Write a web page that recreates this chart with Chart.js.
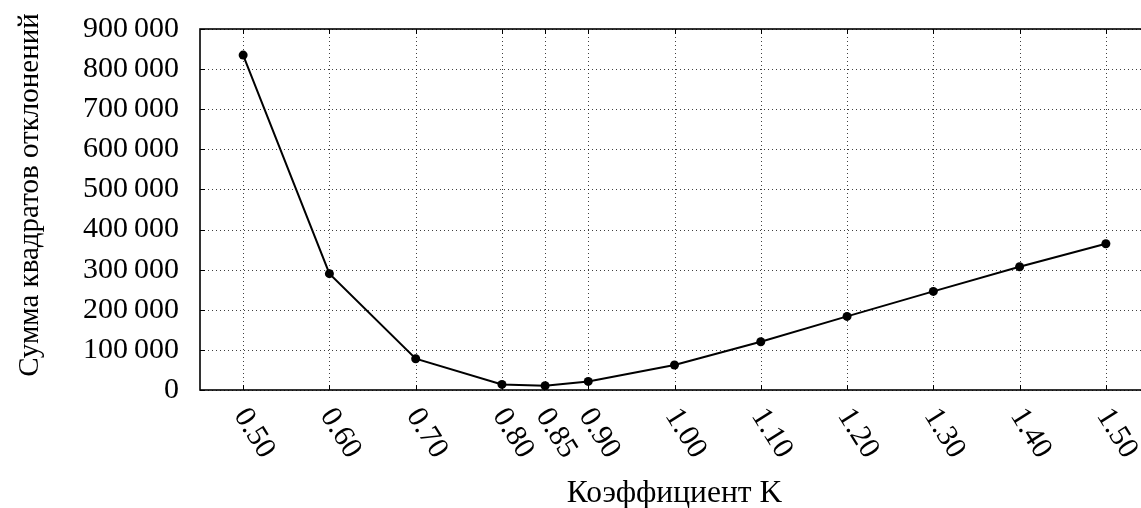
<!DOCTYPE html>
<html>
<head>
<meta charset="utf-8">
<script src="https://cdn.jsdelivr.net/npm/chart.js@4/dist/chart.umd.min.js"></script>
<style>
  html, body { margin: 0; padding: 0; background: #fff; overflow: hidden; }
  canvas { display: block; }
</style>
</head>
<body>
<canvas id="chart" width="1160" height="508"></canvas>
<script>
// values
const coefficients = [0.50, 0.60, 0.70, 0.80, 0.85, 0.90, 1.00, 1.10, 1.20, 1.30, 1.40, 1.50];
const sumSquares = [835000, 290000, 78000, 14000, 10700, 21400, 62300, 120400, 183500, 245800, 307400, 364700];
const xTickLabels = ['0.50', '0.60', '0.70', '0.80', '0.85', '0.90', '1.00', '1.10', '1.20', '1.30', '1.40', '1.50'];
const yTicks = [0, 100000, 200000, 300000, 400000, 500000, 600000, 700000, 800000, 900000];
const xTitle = 'Коэффициент K';
const yTitle = 'Сумма квадратов отклонений';

const FONT = '"Liberation Serif", "Times New Roman", serif';
const LABEL_ROT = 58 * Math.PI / 180;

function fmt(v) {
  return String(v).replace(/\B(?=(\d{3})+(?!\d))/g, '\u2009');
}

// grid, inner tick marks, frame, rotated x labels and axis titles
const pgfFrame = {
  id: 'pgfFrame',
  beforeDatasetsDraw(chart) {
    const { ctx, chartArea: a, scales: { x, y } } = chart;
    ctx.save();
    ctx.lineWidth = 1;
    ctx.strokeStyle = 'rgba(0,0,0,0.75)';
    ctx.setLineDash([1, 3]);
    ctx.beginPath();
    coefficients.forEach(v => {
      const px = Math.round(x.getPixelForValue(v)) + 0.5;
      ctx.moveTo(px, a.top);
      ctx.lineTo(px, a.bottom);
    });
    yTicks.forEach(v => {
      const py = Math.round(y.getPixelForValue(v)) + 0.5;
      ctx.moveTo(a.left, py);
      ctx.lineTo(a.right, py);
    });
    ctx.stroke();
    ctx.setLineDash([]);

    ctx.strokeStyle = '#000';
    ctx.lineWidth = 1;
    ctx.beginPath();
    coefficients.forEach(v => {
      const px = Math.round(x.getPixelForValue(v)) + 0.5;
      ctx.moveTo(px, a.bottom);
      ctx.lineTo(px, a.bottom - 5);
      ctx.moveTo(px, a.top);
      ctx.lineTo(px, a.top + 5);
    });
    yTicks.forEach(v => {
      const py = Math.round(y.getPixelForValue(v)) + 0.5;
      ctx.moveTo(a.left, py);
      ctx.lineTo(a.left + 5, py);
    });
    ctx.stroke();

    ctx.lineWidth = 1.6;
    ctx.strokeRect(a.left, a.top, a.right - a.left, a.bottom - a.top);
    ctx.restore();
  },
  afterDraw(chart) {
    const { ctx, chartArea: a, scales: { x } } = chart;
    ctx.save();
    ctx.fillStyle = '#000';
    ctx.font = '30px ' + FONT;
    ctx.textAlign = 'left';
    ctx.textBaseline = 'middle';
    coefficients.forEach((v, i) => {
      const px = x.getPixelForValue(v);
      ctx.save();
      ctx.translate(px - 3, a.bottom + 21);
      ctx.rotate(LABEL_ROT);
      ctx.fillText(xTickLabels[i], 0, 0);
      ctx.restore();
    });

    ctx.font = '31.5px ' + FONT;
    ctx.textAlign = 'center';
    ctx.textBaseline = 'alphabetic';
    ctx.fillText(xTitle, (a.left + a.right) / 2, 502);

    ctx.font = '29px ' + FONT;
    ctx.save();
    ctx.translate(38, 195);
    ctx.rotate(-Math.PI / 2);
    ctx.fillText(yTitle, 0, 0);
    ctx.restore();
    ctx.restore();
  }
};

new Chart(document.getElementById('chart'), {
  type: 'line',
  data: {
    datasets: [{
      data: coefficients.map((c, i) => ({ x: c, y: sumSquares[i] })),
      borderColor: '#000',
      backgroundColor: '#000',
      borderWidth: 2,
      pointRadius: 4.5,
      pointBorderWidth: 0,
      tension: 0,
      fill: false
    }]
  },
  options: {
    responsive: false,
    animation: false,
    devicePixelRatio: 1,
    layout: { padding: { left: 0, top: 29, right: 11, bottom: 0 } },
    plugins: { legend: { display: false }, tooltip: { enabled: false } },
    scales: {
      x: {
        type: 'linear',
        min: 0.45,
        max: 1.55,
        afterBuildTicks: s => { s.ticks = coefficients.map(v => ({ value: v })); },
        afterFit: s => { s.height = 118; s.paddingLeft = 0; s.paddingRight = 0; },
        ticks: { display: false },
        grid: { display: false },
        border: { display: false }
      },
      y: {
        type: 'linear',
        min: 0,
        max: 900000,
        afterBuildTicks: s => { s.ticks = yTicks.map(v => ({ value: v })); },
        afterFit: s => { s.width = 200; s.paddingTop = 0; s.paddingBottom = 0; },
        ticks: {
          color: '#000',
          padding: 21,
          font: { family: FONT, size: 30 },
          callback: v => fmt(v)
        },
        grid: { display: false, drawTicks: false },
        border: { display: false }
      }
    }
  },
  plugins: [pgfFrame]
});
</script>
</body>
</html>
